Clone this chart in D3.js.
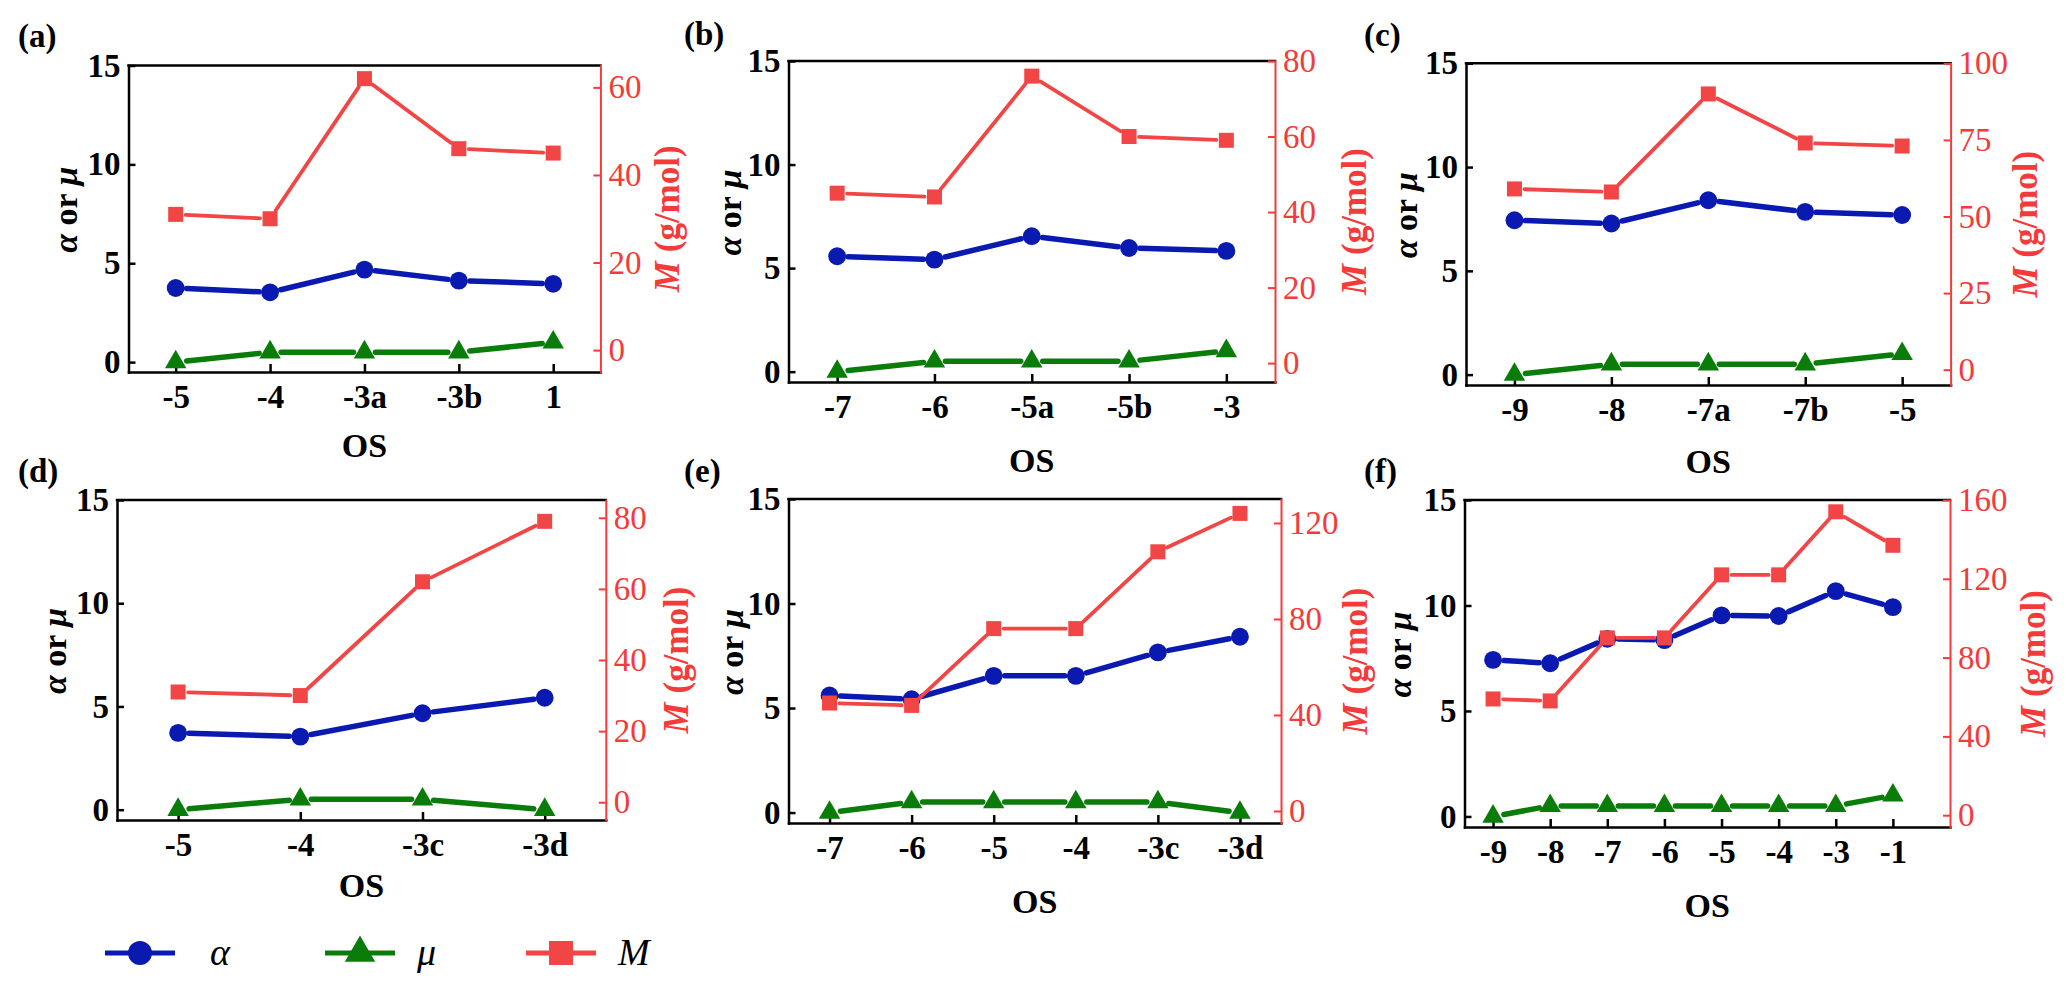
<!DOCTYPE html>
<html>
<head>
<meta charset="utf-8">
<script src="https://cdn.jsdelivr.net/npm/d3@7"></script>
<style>
  body { margin: 0; background: #fff; }
  svg text { font-family: "Liberation Serif", "Times New Roman", Times, serif; }
</style>
</head>
<body>
<svg id="chart" width="2067" height="993"></svg>
<script>
// panel (a)
const osA = ["-5", "-4", "-3a", "-3b", "1"];
const alphaA = [3.75, 3.53, 4.68, 4.12, 3.96];
const muA = [0, 0.5, 0.5, 0.5, 1];
const massA = [31, 30, 62, 46, 45];
// panel (b)
const osB = ["-7", "-6", "-5a", "-5b", "-3"];
const alphaB = [5.57, 5.41, 6.54, 5.97, 5.83];
const muB = [0, 0.5, 0.5, 0.5, 1];
const massB = [45, 44, 76, 60, 59];
// panel (c)
const osC = ["-9", "-8", "-7a", "-7b", "-5"];
const alphaC = [7.44, 7.28, 8.4, 7.84, 7.69];
const muC = [0, 0.5, 0.5, 0.5, 1];
const massC = [59, 58, 90, 74, 73];
// panel (d)
const osD = ["-5", "-4", "-3c", "-3d"];
const alphaD = [3.72, 3.54, 4.67, 5.42];
const muD = [0, 0.5, 0.5, 0];
const massD = [31, 30, 62, 79];
// panel (e)
const osE = ["-7", "-6", "-5", "-4", "-3c", "-3d"];
const alphaE = [5.6, 5.42, 6.54, 6.54, 7.66, 8.41];
const muE = [0, 0.5, 0.5, 0.5, 0.5, 0];
const massE = [45, 44, 76, 76, 108, 124];
// panel (f)
const osF = ["-9", "-8", "-7", "-6", "-5", "-4", "-3", "-1"];
const alphaF = [7.42, 7.26, 8.42, 8.36, 9.53, 9.5, 10.68, 9.92];
const muF = [0, 0.5, 0.5, 0.5, 0.5, 0.5, 0.5, 1];
const massF = [59, 58, 90, 90, 122, 122, 154, 137];

// axes
const leftDomain = [-0.5, 15];
const leftTicks = [0, 5, 10, 15];
const massTicksA = [0, 20, 40, 60];
const massTicksB = [0, 20, 40, 60, 80];
const massTicksC = [0, 25, 50, 75, 100];
const massTicksD = [0, 20, 40, 60, 80];
const massTicksE = [0, 40, 80, 120];
const massTicksF = [0, 40, 80, 120, 160];

const BLUE = "#0a19b0";
const GREEN = "#0a7c0a";
const RED = "#f24545";
const RED_AXIS = "#f53a3a";

// frame boxes and label spots, one per panel
const panels = [
  { tag: "(a)", os: osA, alpha: alphaA, mu: muA, mass: massA, massDomain: [-5, 65], massTicks: massTicksA,
    x0: 128.5, x1: 600.4, y0: 65.5, y1: 372, tagX: 18, tagY: 47, ltx: 65, rtx: 667, osDy: 85, pad: 0 },
  { tag: "(b)", os: osB, alpha: alphaB, mu: muB, mass: massB, massDomain: [-5, 80], massTicks: massTicksB,
    x0: 788.5, x1: 1275, y0: 61, y1: 382, tagX: 684, tagY: 45, ltx: 729, rtx: 1354, osDy: 90, pad: 0 },
  { tag: "(c)", os: osC, alpha: alphaC, mu: muC, mass: massC, massDomain: [-5, 100], massTicks: massTicksC,
    x0: 1466, x1: 1950.6, y0: 63.3, y1: 385, tagX: 1364, tagY: 46, ltx: 1405, rtx: 2025, osDy: 88, pad: 0 },
  { tag: "(d)", os: osD, alpha: alphaD, mu: muD, mass: massD, massDomain: [-5, 85], massTicks: massTicksD,
    x0: 117, x1: 605.8, y0: 500, y1: 820, tagX: 18, tagY: 482, ltx: 54, rtx: 676, osDy: 77, pad: 0 },
  { tag: "(e)", os: osE, alpha: alphaE, mu: muE, mass: massE, massDomain: [-5, 130], massTicks: massTicksE,
    x0: 788.5, x1: 1281, y0: 499, y1: 823, tagX: 684, tagY: 482, ltx: 731, rtx: 1355, osDy: 90, pad: 0 },
  { tag: "(f)", os: osF, alpha: alphaF, mu: muF, mass: massF, massDomain: [-6, 160], massTicks: massTicksF,
    x0: 1464.5, x1: 1950, y0: 500, y1: 827, tagX: 1364, tagY: 482, ltx: 1399, rtx: 2033, osDy: 90, pad: 0.5 }
];

const svg = d3.select("#chart");

// lines stop a little short of each marker
const trimmed = (pts, gap) =>
  d3.pairs(pts).map(([p, q]) => {
    const dx = q[0] - p[0], dy = q[1] - p[1];
    const len = Math.hypot(dx, dy);
    const ux = dx / len, uy = dy / len;
    return [p[0] + ux * gap, p[1] + uy * gap, q[0] - ux * gap, q[1] - uy * gap];
  });

const styleAxis = (g, color, weight, width) => {
  g.attr("font-size", 33);
  g.select(".domain").attr("stroke", color).attr("stroke-width", width).attr("stroke-linecap", "square");
  g.selectAll(".tick line").attr("stroke", color).attr("stroke-width", width);
  g.selectAll(".tick text").attr("fill", color).attr("font-weight", weight);
};

const drawPanel = p => {
  const n = p.os.length;
  const x = d3.scaleLinear().domain([0.5, n + 0.5 + p.pad]).range([p.x0, p.x1]);
  const y = d3.scaleLinear().domain(leftDomain).range([p.y1, p.y0]);
  const yM = d3.scaleLinear().domain(p.massDomain).range([p.y1, p.y0]);
  const g = svg.append("g").attr("class", "panel");

  // top edge
  g.append("line")
    .attr("x1", p.x0).attr("x2", p.x1).attr("y1", p.y0).attr("y2", p.y0)
    .attr("stroke", "#000").attr("stroke-width", 2.5).attr("stroke-linecap", "square");

  g.append("g")
    .attr("transform", "translate(0," + p.y1 + ")")
    .call(d3.axisBottom(x).tickValues(d3.range(1, n + 1)).tickFormat(i => p.os[i - 1])
      .tickSize(-8).tickSizeOuter(0).tickPadding(13))
    .call(a => styleAxis(a, "#000", "bold", 2.5));

  g.append("g")
    .attr("transform", "translate(" + p.x0 + ",0)")
    .call(d3.axisLeft(y).tickValues(leftTicks).tickSize(-7).tickSizeOuter(0).tickPadding(8))
    .call(a => styleAxis(a, "#000", "bold", 2.5));

  g.append("g")
    .attr("transform", "translate(" + p.x1 + ",0)")
    .call(d3.axisRight(yM).tickValues(p.massTicks).tickSize(-7).tickSizeOuter(0).tickPadding(8))
    .call(a => styleAxis(a, RED_AXIS, "normal", 2));

  // axis titles
  g.append("text")
    .attr("x", (p.x0 + p.x1) / 2).attr("y", p.y1 + p.osDy)
    .attr("text-anchor", "middle")
    .attr("font-size", 34).attr("font-weight", "bold").text("OS");

  const midY = (p.y0 + p.y1) / 2;
  const lt = g.append("text")
    .attr("transform", "translate(" + p.ltx + "," + (midY - 9) + ") rotate(-90)")
    .attr("dy", "0.35em").attr("text-anchor", "middle")
    .attr("font-size", 34).attr("font-weight", "bold");
  lt.append("tspan").attr("font-style", "italic").text("α");
  lt.append("tspan").text(" or ");
  lt.append("tspan").attr("font-style", "italic").text("μ");

  const rt = g.append("text")
    .attr("transform", "translate(" + p.rtx + "," + midY + ") rotate(-90)")
    .attr("dy", "0.35em").attr("text-anchor", "middle")
    .attr("font-size", 35).attr("font-weight", "bold").attr("fill", RED_AXIS);
  rt.append("tspan").attr("font-style", "italic").text("M");
  rt.append("tspan").text(" (g/mol)");

  g.append("text")
    .attr("x", p.tagX).attr("y", p.tagY)
    .attr("font-size", 33).attr("font-weight", "bold").text(p.tag);

  const series = [
    { values: p.alpha, scale: y, color: BLUE, width: 5.5, symbol: d3.symbolCircle, size: 250, gap: 11 },
    { values: p.mu, scale: y, color: GREEN, width: 5.5, symbol: d3.symbolTriangle, size: 200, gap: 11 },
    { values: p.mass, scale: yM, color: RED, width: 3.8, symbol: d3.symbolSquare, size: 225, gap: 10 }
  ];

  series.forEach(s => {
    const pts = s.values.map((v, i) => [x(i + 1), s.scale(v)]);
    g.append("g")
      .selectAll("line")
      .data(trimmed(pts, s.gap))
      .enter()
      .append("line")
      .attr("x1", d => d[0]).attr("y1", d => d[1])
      .attr("x2", d => d[2]).attr("y2", d => d[3])
      .attr("stroke", s.color).attr("stroke-width", s.width).attr("stroke-linecap", "round");
    g.append("g")
      .selectAll("path")
      .data(pts)
      .enter()
      .append("path")
      .attr("transform", d => "translate(" + d[0] + "," + d[1] + ")")
      .attr("d", d3.symbol(s.symbol, s.size))
      .attr("fill", s.color);
  });
};

panels.forEach(drawPanel);

// legend
const legendItems = [
  { label: "α", color: BLUE, symbol: d3.symbolCircle, size: 450, lx: 105, text: 210 },
  { label: "μ", color: GREEN, symbol: d3.symbolTriangle, size: 400, lx: 325, text: 417 },
  { label: "M", color: RED, symbol: d3.symbolSquare, size: 576, lx: 526, text: 618 }
];
const legendY = 953;
const legend = svg.append("g").attr("class", "legend");
legendItems.forEach(d => {
  legend.append("line")
    .attr("x1", d.lx).attr("x2", d.lx + 70).attr("y1", legendY).attr("y2", legendY)
    .attr("stroke", d.color).attr("stroke-width", 5);
  legend.append("path")
    .attr("transform", "translate(" + (d.lx + 35) + "," + legendY + ")")
    .attr("d", d3.symbol(d.symbol, d.size))
    .attr("fill", d.color);
  legend.append("text")
    .attr("x", d.text).attr("y", legendY + 12)
    .attr("font-size", 38).attr("font-style", "italic")
    .text(d.label);
});
</script>
</body>
</html>
